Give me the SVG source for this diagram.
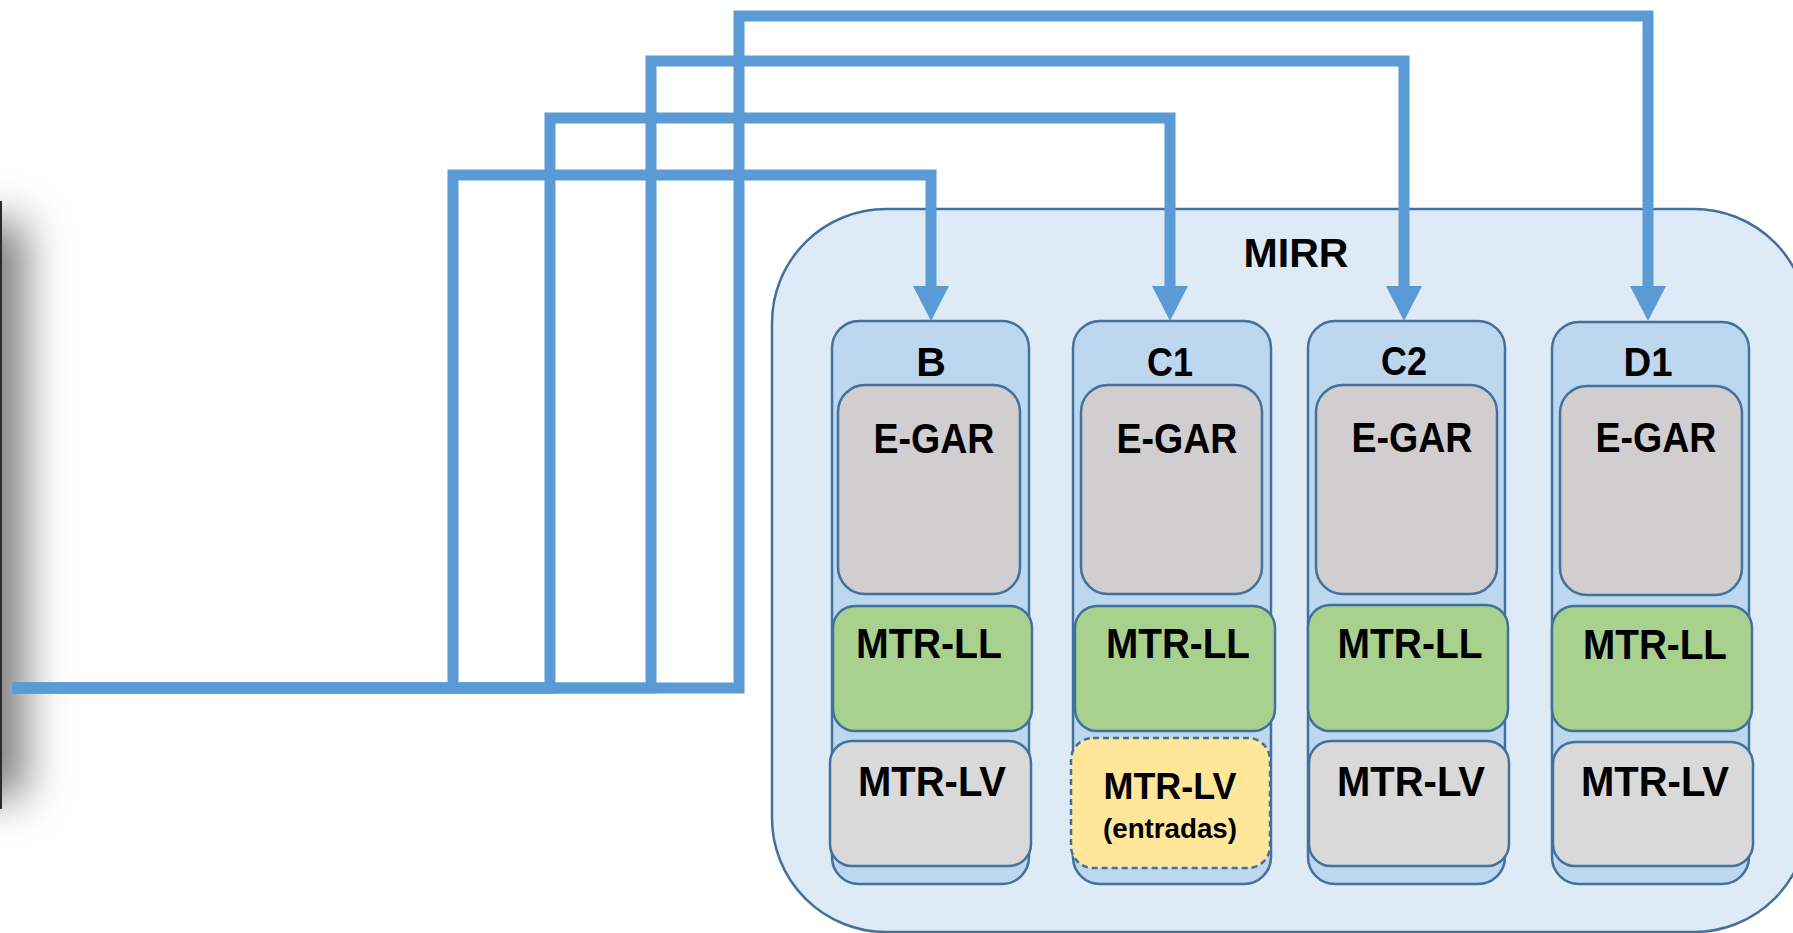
<svg xmlns="http://www.w3.org/2000/svg" width="1793" height="933" viewBox="0 0 1793 933">
<defs>
<style>
.container{fill:#DEEBF7;stroke:#41719C;stroke-width:2.5}
.col{fill:#BDD7EE;stroke:#41719C;stroke-width:2.5}
.egar{fill:#D0CECE;stroke:#41719C;stroke-width:2.5}
.ll{fill:#A9D18E;stroke:#41719C;stroke-width:2.5}
.lv{fill:#D9D9D9;stroke:#41719C;stroke-width:2.5}
.lvy{fill:#FFE699;stroke:#41719C;stroke-width:2.5;stroke-dasharray:6 4}
text{font-family:"Liberation Sans",Arial,sans-serif;font-weight:bold;fill:#000;text-anchor:middle}
.t{font-size:42px}
.h{font-size:41px}
.conn{fill:none;stroke:#5B9BD5;stroke-width:11;stroke-linejoin:miter;stroke-linecap:butt}
</style>
<marker id="arr" viewBox="0 0 35 36" markerWidth="35" markerHeight="36" refX="0" refY="18" orient="auto" markerUnits="userSpaceOnUse">
<path d="M0,0 L35,18 L0,36 Z" fill="#5B9BD5"/>
</marker>
<filter id="blur" filterUnits="userSpaceOnUse" x="-200" y="80" width="400" height="900">
<feGaussianBlur stdDeviation="22"/>
</filter>
</defs>

<g id="left-shadow">
<rect x="-150" y="222" width="175" height="575" fill="#000" fill-opacity="0.51" filter="url(#blur)"/>
<rect x="0" y="201" width="2" height="608" fill="#2b2b2b"/>
</g>

<g id="MIRR">
<rect class="container" x="772" y="209" width="1036" height="723" rx="114" ry="114"/>
<text class="h" x="1296" y="267" textLength="105" lengthAdjust="spacingAndGlyphs">MIRR</text>
</g>

<g id="B">
<rect class="col" x="832" y="321" width="197" height="563" rx="27"/>
<text class="h" x="931" y="376">B</text>
<g id="B-EGAR"><rect class="egar" x="838" y="385" width="182" height="209" rx="27"/><text class="t" x="934" y="453" textLength="121" lengthAdjust="spacingAndGlyphs">E-GAR</text></g>
<g id="B-LL"><rect class="ll" x="833" y="606" width="199" height="125" rx="22"/><text class="t" x="929" y="658" textLength="146" lengthAdjust="spacingAndGlyphs">MTR-LL</text></g>
<g id="B-LV"><rect class="lv" x="830" y="741" width="201" height="125" rx="22"/><text class="t" x="932" y="796" textLength="148" lengthAdjust="spacingAndGlyphs">MTR-LV</text></g>
</g>

<g id="C1">
<rect class="col" x="1073" y="321" width="198" height="563" rx="27"/>
<text class="h" x="1170" y="376" textLength="46" lengthAdjust="spacingAndGlyphs">C1</text>
<g id="C1-EGAR"><rect class="egar" x="1081" y="385" width="181" height="209" rx="27"/><text class="t" x="1177" y="453" textLength="121" lengthAdjust="spacingAndGlyphs">E-GAR</text></g>
<g id="C1-LL"><rect class="ll" x="1075" y="606" width="200" height="125" rx="22"/><text class="t" x="1178" y="658" textLength="144" lengthAdjust="spacingAndGlyphs">MTR-LL</text></g>
<g id="C1-LV"><rect class="lvy" x="1071" y="738" width="199" height="130" rx="22"/><text x="1170" y="799" style="font-size:37px" textLength="133" lengthAdjust="spacingAndGlyphs">MTR-LV</text><text x="1170" y="838" style="font-size:28px" textLength="134" lengthAdjust="spacingAndGlyphs">(entradas)</text></g>
</g>

<g id="C2">
<rect class="col" x="1308" y="321" width="197" height="563" rx="27"/>
<text class="h" x="1404" y="375" textLength="46" lengthAdjust="spacingAndGlyphs">C2</text>
<g id="C2-EGAR"><rect class="egar" x="1316" y="385" width="181" height="209" rx="27"/><text class="t" x="1412" y="452" textLength="121" lengthAdjust="spacingAndGlyphs">E-GAR</text></g>
<g id="C2-LL"><rect class="ll" x="1308" y="605" width="200" height="126" rx="22"/><text class="t" x="1410" y="658" textLength="145" lengthAdjust="spacingAndGlyphs">MTR-LL</text></g>
<g id="C2-LV"><rect class="lv" x="1309" y="741" width="200" height="125" rx="22"/><text class="t" x="1411" y="796" textLength="148" lengthAdjust="spacingAndGlyphs">MTR-LV</text></g>
</g>

<g id="D1">
<rect class="col" x="1552" y="322" width="197" height="562" rx="27"/>
<text class="h" x="1648" y="376" textLength="49" lengthAdjust="spacingAndGlyphs">D1</text>
<g id="D1-EGAR"><rect class="egar" x="1560" y="386" width="182" height="209" rx="27"/><text class="t" x="1656" y="452" textLength="121" lengthAdjust="spacingAndGlyphs">E-GAR</text></g>
<g id="D1-LL"><rect class="ll" x="1552" y="606" width="200" height="125" rx="22"/><text class="t" x="1655" y="659" textLength="144" lengthAdjust="spacingAndGlyphs">MTR-LL</text></g>
<g id="D1-LV"><rect class="lv" x="1553" y="742" width="200" height="124" rx="22"/><text class="t" x="1655" y="796" textLength="148" lengthAdjust="spacingAndGlyphs">MTR-LV</text></g>
</g>

<g id="connectors">
<path class="conn" d="M12,688 H453 V175 H931 V286" marker-end="url(#arr)"/>
<path class="conn" d="M12,688 H550 V118 H1170 V286" marker-end="url(#arr)"/>
<path class="conn" d="M12,688 H651 V61 H1404 V286" marker-end="url(#arr)"/>
<path class="conn" d="M12,688 H739 V16 H1648 V286" marker-end="url(#arr)"/>
</g>
</svg>
